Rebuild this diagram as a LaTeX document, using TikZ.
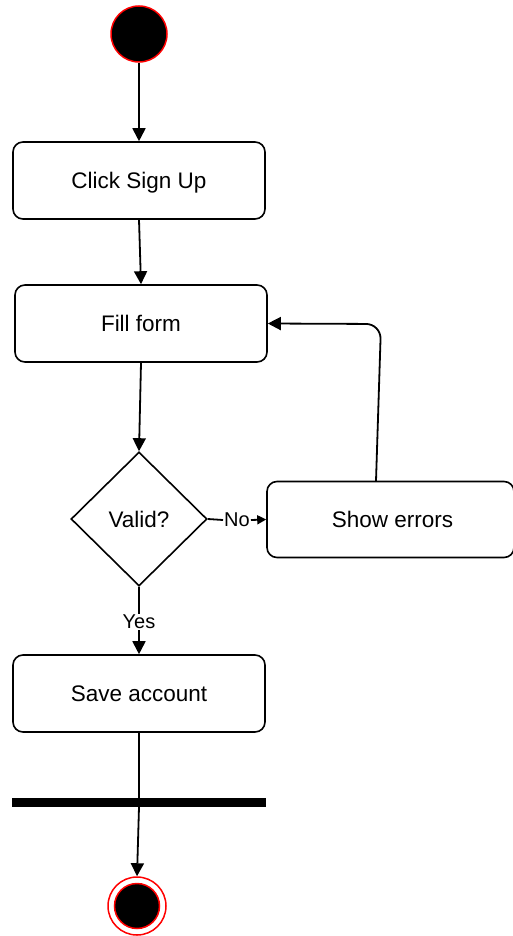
\documentclass[tikz,border=0pt]{standalone}
\usepackage{fontspec}
\setmainfont{Liberation Sans}
\usetikzlibrary{arrows.meta,shapes.geometric,calc}
\begin{document}
\begin{tikzpicture}[x=1pt,y=-1pt,
  act/.style={draw,line width=1.6pt,rounded corners=10pt,minimum width=252pt,minimum height=77pt,inner sep=0pt,text depth=0pt,font=\fontsize{22.5}{27}\selectfont},
  dec/.style={draw,diamond,line width=1.6pt,minimum width=136pt,minimum height=134pt,inner sep=0pt,text depth=0pt,font=\fontsize{22.5}{27}\selectfont},
  lbl/.style={inner sep=1pt,text depth=0pt,font=\fontsize{20}{24}\selectfont},
  conn/.style={line width=1.8pt},
  arr/.style={conn,-{Triangle[length=13pt,width=13pt]}},
  sarr/.style={conn,-{Triangle[length=9pt,width=9pt]}},
  startnode/.style={circle,fill=black,draw=red,line width=1.5pt,minimum size=56pt,inner sep=0pt},
  barnode/.style={fill=black,minimum width=254pt,minimum height=9pt,inner sep=0pt},
]
\useasboundingbox (0,0) rectangle (513,936);
\node[startnode] (start) at (139,34) {};
\node[act] (click) at (139,180.5) {Click Sign Up};
\node[act] (fill) at (141,323.5) {Fill form};
\node[dec] (valid) at (139,519) {Valid?};
\node[act,minimum width=247pt,minimum height=76pt] (errors) at (390.5,519.5) {\hspace*{4pt}Show errors};
\node[act] (save) at (139,693.5) {Save account};
\node[barnode] (bar) at (139,802.5) {};
\node[circle,draw=red,line width=1.5pt,minimum size=58pt,inner sep=0pt] (endo) at (137,906) {};
\node[circle,fill=black,draw=red,line width=1.5pt,minimum size=45pt,inner sep=0pt] (endi) at (137,906) {};
\node[lbl] (no) at (237,520) {No};
\node[lbl] (yes) at (139,622) {Yes};
\coordinate (loopA) at (376,481);
\coordinate (loopB) at (381,324);

\draw[arr] (start) -- (click.north);
\draw[arr] (click.south) -- (fill.north);
\draw[arr] (fill.south) -- (valid.north);
\draw[conn] (valid.east) -- (no.west);
\draw[sarr] (no.east) -- (errors.west);
\draw[arr,rounded corners=15pt] (loopA) -- (loopB) -- (fill.east);
\draw[conn] (valid.south) -- (yes.north);
\draw[arr] (yes.south) -- (save.north);
\draw[conn] (save.south) -- (bar.north);
\draw[arr] (bar.south) -- (endo.north);
\end{tikzpicture}
\end{document}
